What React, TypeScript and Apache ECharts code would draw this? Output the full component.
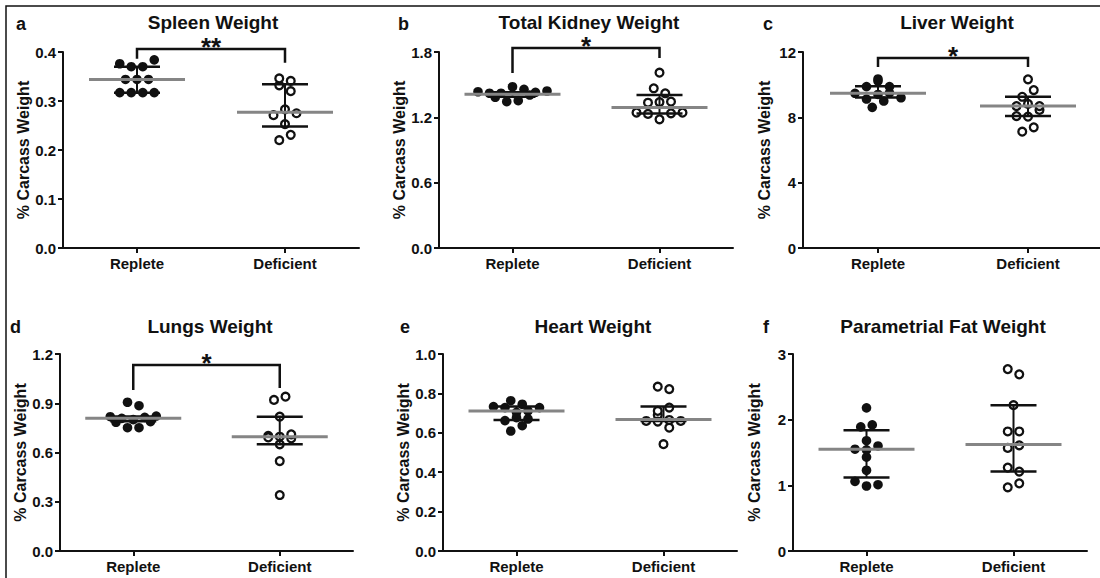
import React, { useEffect, useRef } from "react";
import * as echarts from "echarts";

// ---------- data ----------
const categories = ["Replete", "Deficient"];
const yAxisName = "% Carcass Weight";
const panelLetters = ["a", "b", "c", "d", "e", "f"];
const panelTitles = [
  "Spleen Weight",
  "Total Kidney Weight",
  "Liver Weight",
  "Lungs Weight",
  "Heart Weight",
  "Parametrial Fat Weight",
];
const yMax = [0.4, 1.8, 12, 1.2, 1.0, 3];
const yStep = [0.1, 0.6, 4, 0.3, 0.2, 1];
const yDecimals = [1, 1, 0, 1, 1, 0];
const significance = ["**", "*", "*", "*", "", ""];

// a – spleen
const spleenReplete = [0.376, 0.37, 0.37, 0.384, 0.344, 0.344, 0.344, 0.317, 0.317, 0.317, 0.317];
const spleenDeficient = [0.332, 0.346, 0.341, 0.32, 0.271, 0.283, 0.275, 0.253, 0.22, 0.231];
const spleenMid = [0.344, 0.277];
const spleenLow = [0.317, 0.248];
const spleenHigh = [0.37, 0.334];
const spleenBracket = [0.406, 0.386, 0.378];

// b – total kidney
const kidneyReplete = [1.435, 1.421, 1.421, 1.384, 1.481, 1.344, 1.457, 1.353, 1.405, 1.43, 1.442];
const kidneyDeficient = [1.61, 1.467, 1.421, 1.334, 1.34, 1.344, 1.243, 1.231, 1.182, 1.237, 1.243];
const kidneyMid = [1.411, 1.29];
const kidneyLow = [1.39, 1.235];
const kidneyHigh = [1.43, 1.405];
const kidneyBracket = [1.837, 1.607, 1.745];

// c – liver
const liverReplete = [9.88, 9.47, 9.12, 10.22, 9.4, 8.61, 10.35, 9.0, 9.5, 9.2, 9.88];
const liverDeficient = [8.69, 10.33, 8.08, 8.82, 7.12, 8.04, 9.26, 7.39, 8.45, 9.67, 8.69];
const liverMid = [9.47, 8.69];
const liverLow = [9.22, 8.08];
const liverHigh = [9.9, 9.26];
const liverBracket = [11.63, 11.08, 11.08];

// d – lungs
const lungsReplete = [0.818, 0.808, 0.784, 0.906, 0.751, 0.8, 0.885, 0.751, 0.788, 0.814, 0.822];
const lungsDeficient = [0.702, 0.692, 0.92, 0.65, 0.818, 0.548, 0.341, 0.94, 0.686, 0.696, 0.711];
const lungsMid = [0.808, 0.696];
const lungsLow = [0.79, 0.65];
const lungsHigh = [0.82, 0.818];
const lungsBracket = [1.133, 0.981, 0.993];

// e – heart
const heartReplete = [0.733, 0.728, 0.662, 0.704, 0.609, 0.763, 0.677, 0.636, 0.711, 0.67, 0.728, 0.745];
const heartDeficient = [0.69, 0.66, 0.834, 0.711, 0.657, 0.542, 0.822, 0.728, 0.626, 0.66, 0.665];
const heartMid = [0.711, 0.668];
const heartLow = [0.665, 0.66];
const heartHigh = [0.733, 0.733];

// f – parametrial fat
const fatReplete = [1.55, 1.06, 1.89, 2.18, 1.68, 1.23, 0.99, 1.43, 1.92, 1.54, 1.01, 1.6];
const fatDeficient = [2.77, 1.82, 1.57, 1.27, 0.97, 2.22, 2.69, 1.82, 1.61, 1.03, 1.21];
const fatMid = [1.55, 1.62];
const fatLow = [1.12, 1.21];
const fatHigh = [1.84, 2.22];

const panels = [
  { rep: spleenReplete, def: spleenDeficient, mid: spleenMid, low: spleenLow, high: spleenHigh, bracket: spleenBracket },
  { rep: kidneyReplete, def: kidneyDeficient, mid: kidneyMid, low: kidneyLow, high: kidneyHigh, bracket: kidneyBracket },
  { rep: liverReplete, def: liverDeficient, mid: liverMid, low: liverLow, high: liverHigh, bracket: liverBracket },
  { rep: lungsReplete, def: lungsDeficient, mid: lungsMid, low: lungsLow, high: lungsHigh, bracket: lungsBracket },
  { rep: heartReplete, def: heartDeficient, mid: heartMid, low: heartLow, high: heartHigh, bracket: null as number[] | null },
  { rep: fatReplete, def: fatDeficient, mid: fatMid, low: fatLow, high: fatHigh, bracket: null as number[] | null },
];

// ---------- layout ----------
const FONT = '"Liberation Sans", Arial, Helvetica, sans-serif';
const INK = "#111111";
const GRIDS = [
  { left: 63, top: 52, width: 296, height: 196 },
  { left: 439, top: 52, width: 294, height: 196 },
  { left: 803, top: 52, width: 300, height: 196 },
  { left: 60, top: 354, width: 293, height: 197 },
  { left: 443, top: 354, width: 294, height: 197 },
  { left: 793, top: 354, width: 294, height: 197 },
];
const TITLE_POS = [
  [213, 22], [589, 22], [957, 22],
  [210, 326], [593, 326], [943, 326],
];
const LETTER_POS = [
  [16, 24], [398, 24], [763, 24],
  [10, 327], [400, 327], [763, 327],
];

// GraphPad-like row scatter: points close in value share a row, spread symmetrically
function swarmOffsets(values: number[], pxPerUnit: number, rowTol = 7, spacing = 11.5): number[] {
  const order = values.map((_, i) => i).sort((a, b) => values[a] - values[b] || a - b);
  const offsets = new Array(values.length).fill(0);
  let row: number[] = [];
  let start = 0;
  const flush = () => {
    const members = row.slice().sort((a, b) => a - b);
    const n = members.length;
    members.forEach((m, k) => {
      offsets[m] = (k - (n - 1) / 2) * spacing;
    });
  };
  order.forEach((i) => {
    const py = values[i] * pxPerUnit;
    if (row.length && py - start <= rowTol) row.push(i);
    else {
      if (row.length) flush();
      row = [i];
      start = py;
    }
  });
  if (row.length) flush();
  return offsets;
}

function buildOption() {
  const grid: any[] = [];
  const xAxis: any[] = [];
  const yAxis: any[] = [];
  const series: any[] = [];
  const graphic: any[] = [];

  graphic.push({
    type: "rect",
    shape: { x: 6, y: 6, width: 1110, height: 590 },
    style: { fill: "none", stroke: INK, lineWidth: 1.5 },
    silent: true,
  });

  panels.forEach((p, i) => {
    const g = GRIDS[i];
    grid.push({ ...g, containLabel: false, outerBoundsMode: "none" });
    xAxis.push({
      type: "category",
      gridIndex: i,
      data: categories,
      boundaryGap: true,
      axisLine: { show: true, lineStyle: { color: INK, width: 2 } },
      axisTick: { show: true, alignWithLabel: true, length: 5, lineStyle: { color: INK, width: 2 } },
      axisLabel: { fontSize: 15, fontWeight: "bold", color: INK, fontFamily: FONT, margin: 8 },
      splitLine: { show: false },
    });
    const dec = yDecimals[i];
    yAxis.push({
      type: "value",
      gridIndex: i,
      min: 0,
      max: yMax[i],
      interval: yStep[i],
      name: yAxisName,
      nameLocation: "middle",
      nameGap: 31,
      nameTextStyle: { fontSize: 16, fontWeight: "bold", color: INK, fontFamily: FONT },
      axisLine: { show: true, lineStyle: { color: INK, width: 2 } },
      axisTick: { show: true, length: 5, lineStyle: { color: INK, width: 2 } },
      axisLabel: {
        fontSize: 15,
        fontWeight: "bold",
        color: INK,
        fontFamily: FONT,
        margin: 7,
        formatter: (v: number) => v.toFixed(dec),
      },
      splitLine: { show: false },
    });

    const pxPerUnit = g.height / yMax[i];
    const groups = [p.rep, p.def];
    groups.forEach((vals, gi) => {
      const offs = swarmOffsets(vals, pxPerUnit);
      const filled = gi === 0;
      series.push({
        type: "custom",
        xAxisIndex: i,
        yAxisIndex: i,
        encode: { x: 0, y: 1 },
        data: vals.map((v, k) => [gi, v, offs[k]]),
        renderItem: (_params: any, api: any) => {
          const pt = api.coord([api.value(0), api.value(1)]);
          return {
            type: "circle",
            shape: { cx: pt[0] + api.value(2), cy: pt[1], r: filled ? 4.8 : 3.9 },
            style: filled ? { fill: INK } : { fill: "#ffffff", stroke: INK, lineWidth: 2.3 },
          };
        },
      });
    });

    // summary: whiskers, caps and centre line
    series.push({
      type: "custom",
      xAxisIndex: i,
      yAxisIndex: i,
      encode: { x: 0, y: [1, 2, 3] },
      data: [0, 1].map((k) => [k, p.mid[k], p.low[k], p.high[k]]),
      renderItem: (_params: any, api: any) => {
        const x = api.value(0);
        const pm = api.coord([x, api.value(1)]);
        const pl = api.coord([x, api.value(2)]);
        const ph = api.coord([x, api.value(3)]);
        const capHalf = 23;
        const meanHalf = 48;
        return {
          type: "group",
          children: [
            { type: "line", shape: { x1: pm[0], y1: pl[1], x2: pm[0], y2: ph[1] }, style: { stroke: INK, lineWidth: 2 } },
            { type: "line", shape: { x1: pm[0] - capHalf, y1: pl[1], x2: pm[0] + capHalf, y2: pl[1] }, style: { stroke: INK, lineWidth: 2.5 } },
            { type: "line", shape: { x1: pm[0] - capHalf, y1: ph[1], x2: pm[0] + capHalf, y2: ph[1] }, style: { stroke: INK, lineWidth: 2.5 } },
            { type: "line", shape: { x1: pm[0] - meanHalf, y1: pm[1], x2: pm[0] + meanHalf, y2: pm[1] }, style: { stroke: "#858585", lineWidth: 3 } },
          ],
        };
      },
    });

    if (p.bracket) {
      const stars = significance[i];
      series.push({
        type: "custom",
        xAxisIndex: i,
        yAxisIndex: i,
        encode: { x: 0, y: [1, 2, 3] },
        clip: false,
        data: [[0, p.bracket[0], p.bracket[1], p.bracket[2]]],
        renderItem: (_params: any, api: any) => {
          const a = api.coord([0, api.value(1)]);
          const b = api.coord([1, api.value(1)]);
          const la = api.coord([0, api.value(2)]);
          const rb = api.coord([1, api.value(3)]);
          return {
            type: "group",
            children: [
              {
                type: "polyline",
                shape: { points: [[a[0], la[1]], [a[0], a[1]], [b[0], b[1]], [b[0], rb[1]]] },
                style: { fill: "none", stroke: INK, lineWidth: 2.5 },
              },
              {
                type: "text",
                x: (a[0] + b[0]) / 2,
                y: a[1] - 2,
                style: {
                  text: stars,
                  fill: INK,
                  font: `bold 26px ${FONT}`,
                  align: "center",
                  verticalAlign: "middle",
                  textAlign: "center",
                  textVerticalAlign: "middle",
                },
              },
            ],
          };
        },
      });
    }

    graphic.push({
      type: "text",
      x: TITLE_POS[i][0],
      y: TITLE_POS[i][1],
      style: {
        text: panelTitles[i],
        fill: INK,
        font: `bold 19px ${FONT}`,
        textAlign: "center",
        textVerticalAlign: "middle",
        align: "center",
        verticalAlign: "middle",
      },
    });
    graphic.push({
      type: "text",
      x: LETTER_POS[i][0],
      y: LETTER_POS[i][1],
      style: {
        text: panelLetters[i],
        fill: INK,
        font: `bold 18px ${FONT}`,
        textAlign: "left",
        textVerticalAlign: "middle",
        align: "left",
        verticalAlign: "middle",
      },
    });
  });

  return {
    animation: false,
    backgroundColor: "#ffffff",
    textStyle: { fontFamily: FONT },
    grid,
    xAxis,
    yAxis,
    series,
    graphic,
  };
}

export default function App() {
  const ref = useRef<HTMLDivElement>(null);
  useEffect(() => {
    if (!ref.current) return;
    const chart = echarts.init(ref.current, undefined, { renderer: "svg" });
    chart.setOption(buildOption() as any);
    return () => chart.dispose();
  }, []);
  return (
    <div
      ref={ref}
      style={{ position: "fixed", left: 0, top: 0, width: 1100, height: 578, background: "#fff" }}
    />
  );
}
